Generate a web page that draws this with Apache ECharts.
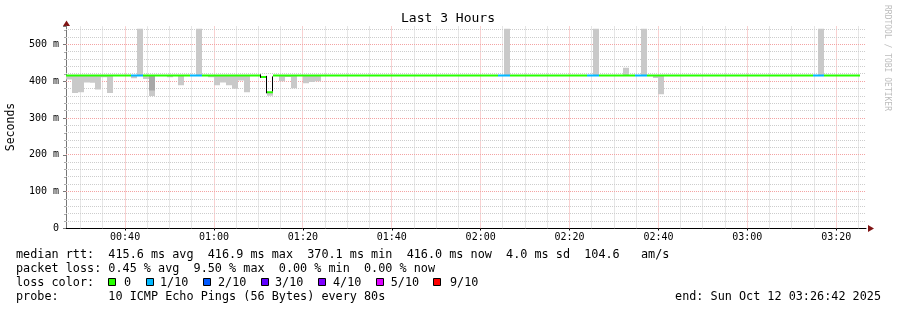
<!DOCTYPE html>
<html><head><meta charset="utf-8">
<script src="https://cdn.jsdelivr.net/npm/echarts@6/dist/echarts.min.js"></script>
<style>html,body{margin:0;padding:0;background:#fff}#c{width:897px;height:310px}</style>
</head><body><div id="c"></div>
<script>
const _ = null;
// time values are seconds since 00:00
const firstRowStart = 1600;   // 00:26:40
const stepSeconds = 80;
const viewStart = 1602;       // 00:26:42
const viewEnd = 12402;        // 03:26:42
const xTickValues = [2400, 3600, 4800, 6000, 7200, 8400, 9600, 10800, 12000];
const xTickLabels = ['00:40', '01:00', '01:20', '01:40', '02:00', '02:20', '02:40', '03:00', '03:20'];
const yTickValues = [0, 100, 200, 300, 400, 500];
const yTickLabels = ['0', '100 m', '200 m', '300 m', '400 m', '500 m'];

// median rtt per 80 s row (ms)
const median = [
 416,416,416,416,416,416,416,416,416,416,
 416,416,416,416,416,416,416,416,416,416,
 416,416,416,416,416,416,416,416,416,416,
 416,416,416,412,370,416,416,416,416,416,
 416,416,416,416,416,416,416,416,416,416,
 416,416,416,416,416,416,416,416,416,416,
 416,416,416,416,416,416,416,416,416,416,
 416,416,416,416,416,416,416,416,416,416,
 416,416,416,416,416,416,416,416,416,416,
 416,416,416,416,416,416,416,416,416,416,
 416,416,416,416,416,416,416,416,416,416,
 416,416,416,416,416,416,416,416,416,416,
 416,416,416,416,416,416,416,416,416,416,
 416,416,416,416
];
// lost pings out of 10 per row
const lossTenths = [
 0,0,0,0,0,0,0,0,0,0,
 0,1,1,0,0,0,0,0,0,0,
 0,1,1,0,0,0,0,0,0,0,
 0,0,0,0,0,0,0,0,0,0,
 0,0,0,0,0,0,0,0,0,0,
 0,0,0,0,0,0,0,0,0,0,
 0,0,0,0,0,0,0,0,0,0,
 0,0,0,1,1,0,0,0,0,0,
 0,0,0,0,0,0,0,0,1,1,
 0,0,0,0,0,0,1,1,0,0,
 0,0,0,0,0,0,0,0,0,0,
 0,0,0,0,0,0,0,0,0,0,
 0,0,0,0,0,0,1,1,0,0,
 0,0,0,0
];
// smoke extent below the median (ms)
const smokeLow = [
 405,368,370,397,396,378,411,368,_,_,
 _,408,_,406,360,_,_,411,_,389,
 _,_,_,_,411,389,397,389,380,402,
 370,_,_,_,361,_,400,412,381,_,
 395,398,400,_,_,_,_,_,_,_,
 _,_,_,_,_,_,_,_,_,_,
 _,_,_,_,_,_,_,_,_,_,
 _,_,_,_,_,_,_,_,_,_,
 _,_,_,_,_,_,_,_,_,_,
 _,_,_,_,_,_,_,_,_,409,
 365,_,_,_,_,_,_,_,_,_,
 _,_,_,_,_,_,_,_,_,_,
 _,_,_,_,_,_,_,_,_,_,
 _,_,_,_
];
// smoke extent above the median (ms)
const smokeHigh = [
 _,_,_,_,_,_,_,_,_,_,
 _,_,543,_,_,_,_,_,_,_,
 _,_,543,_,_,_,_,_,_,_,
 _,_,_,_,_,_,_,_,_,_,
 _,_,_,_,_,_,_,_,_,_,
 _,_,_,_,_,_,_,_,_,_,
 _,_,_,_,_,_,_,_,_,_,
 _,_,_,_,543,_,_,_,_,_,
 _,_,_,_,_,_,_,_,_,543,
 _,_,_,_,437,_,_,543,_,_,
 _,_,_,_,_,_,_,_,_,_,
 _,_,_,_,_,_,_,_,_,_,
 _,_,_,_,_,_,_,543,_,_,
 _,_,_,_
];
// denser smoke band below the median (ms)
const smokeDark = [
 _,_,_,_,_,_,_,_,_,_,
 _,_,_,_,375,_,_,_,_,_,
 _,_,_,_,_,_,_,_,_,_,
 _,_,_,_,_,_,_,_,_,_,
 _,_,_,_,_,_,_,_,_,_,
 _,_,_,_,_,_,_,_,_,_,
 _,_,_,_,_,_,_,_,_,_,
 _,_,_,_,_,_,_,_,_,_,
 _,_,_,_,_,_,_,_,_,_,
 _,_,_,_,_,_,_,_,_,_,
 _,_,_,_,_,_,_,_,_,_,
 _,_,_,_,_,_,_,_,_,_,
 _,_,_,_,_,_,_,_,_,_,
 _,_,_,_
];
const lossColors = ['#26ff00', '#00b8ff', '#0059ff', '#5e00ff', '#7e00ff', '#dd00ff', '#ff0000'];
const lossLabels = ['0', '1/10', '2/10', '3/10', '4/10', '5/10', '9/10'];
const statsLines = [
  'median rtt:  415.6 ms avg  416.9 ms max  370.1 ms min  416.0 ms now  4.0 ms sd  104.6   am/s',
  'packet loss: 0.45 % avg  9.50 % max  0.00 % min  0.00 % now',
  'loss color:',
  'probe:       10 ICMP Echo Pings (56 Bytes) every 80s'
];
const endText = 'end: Sun Oct 12 03:26:42 2025';
const titleText = 'Last 3 Hours';
const yName = 'Seconds';
const watermark = 'RRDTOOL / TOBI OETIKER';

const YMAX = 550;
const MONO = '"DejaVu Sans Mono", monospace';

// grid data
const xGrid = [];
for (let t = 1800; t <= 12300; t += 300) xGrid.push([t, 0, t % 1200 === 0 ? 1 : 0]);
const yGrid = [];
for (let v = 20; v <= 540; v += 20) yGrid.push([viewStart, v, v % 100 === 0 ? 1 : 0]);

const medianData = median.map((m, i) => [
  firstRowStart + stepSeconds * i, firstRowStart + stepSeconds * (i + 1),
  m, lossTenths[i], i > 0 ? median[i - 1] : m]);
const smokeData = [];
median.forEach((m, i) => {
  if (smokeLow[i] != null || smokeHigh[i] != null || smokeDark[i] != null) {
    smokeData.push([firstRowStart + stepSeconds * i, firstRowStart + stepSeconds * (i + 1), m,
      smokeLow[i] != null ? smokeLow[i] : m,
      smokeHigh[i] != null ? smokeHigh[i] : m,
      smokeDark[i] != null ? smokeDark[i] : m]);
  }
});

const crisp = v => Math.floor(v + 0.01) + 0.5;
const MINOR = '#cdcdcd', MAJOR = '#f3a3a3';

function renderXGrid(params, api) {
  const t = api.value(0);
  const a = api.coord([t, 0]), b = api.coord([t, YMAX]);
  const x = crisp(a[0]);
  return { type: 'line', shape: { x1: x, y1: a[1], x2: x, y2: b[1] },
    style: { stroke: api.value(2) ? MAJOR : MINOR, lineWidth: 1, lineDash: [1, 1] } };
}
function renderYGrid(params, api) {
  const v = api.value(1);
  const a = api.coord([viewStart, v]), b = api.coord([viewEnd, v]);
  const y = crisp(a[1]);
  return { type: 'line', shape: { x1: a[0], y1: y, x2: b[0], y2: y },
    style: { stroke: api.value(2) ? MAJOR : MINOR, lineWidth: 1, lineDash: [1, 1] } };
}
function renderSmoke(params, api) {
  const t0 = api.value(0), t1 = api.value(1), m = api.value(2);
  const x0 = Math.round(api.coord([t0, m])[0]);
  const x1 = Math.round(api.coord([t1, m])[0]);
  const ym = api.coord([t0, m])[1];
  const children = [];
  function band(v, color) {
    if (v === m) return;
    const y = api.coord([t0, v])[1];
    children.push({ type: 'rect', shape: { x: x0, y: Math.min(y, ym), width: x1 - x0, height: Math.abs(y - ym) },
      style: { fill: color } });
  }
  band(api.value(3), '#c9c9c9');
  band(api.value(4), '#c9c9c9');
  band(api.value(5), '#a8a8a8');
  return { type: 'group', children };
}
function renderMedian(params, api) {
  const t0 = api.value(0), t1 = api.value(1), m = api.value(2), loss = api.value(3), prev = api.value(4);
  const a = api.coord([t0, m]), b = api.coord([t1, m]);
  const children = [];
  if (prev !== m) {
    const p = api.coord([t0, prev]);
    const x = Math.round(a[0]) - 0.5;
    children.push({ type: 'line', shape: { x1: x, y1: p[1] - 1, x2: x, y2: a[1] + 1 },
      style: { stroke: '#000', lineWidth: 1 } });
  }
  children.push({ type: 'line', shape: { x1: Math.round(a[0]), y1: a[1], x2: Math.round(b[0]), y2: b[1] },
    style: { stroke: lossColors[loss], lineWidth: 2 } });
  return { type: 'group', children };
}

const graphics = [];
graphics.push({ type: 'text', x: 448, y: 19, style: { text: titleText, font: '13px ' + MONO, fill: '#000', align: 'center', verticalAlign: 'middle' } });
graphics.push({ type: 'text', x: 11, y: 127, rotation: Math.PI / 2, style: { text: yName, font: '11.5px ' + MONO, fill: '#000', align: 'center', verticalAlign: 'middle' } });
graphics.push({ type: 'text', x: 887, y: 5, rotation: -Math.PI / 2, style: { text: watermark, font: '8px ' + MONO, fill: '#bdbdbd', align: 'left', verticalAlign: 'middle' } });
const lineY = [254.5, 268.5, 282.5, 296.5];
statsLines.forEach((s, i) => {
  graphics.push({ type: 'text', x: 16, y: lineY[i], style: { text: s, font: '11.8px ' + MONO, fill: '#000', align: 'left', verticalAlign: 'middle' } });
});
graphics.push({ type: 'text', x: 881, y: lineY[3], style: { text: endText, font: '11.8px ' + MONO, fill: '#000', align: 'right', verticalAlign: 'middle' } });
const sqX = [108, 145.7, 203, 260.7, 318, 375.7, 433.3];
const lbX = [124, 160, 218, 275, 333, 390.7, 450];
lossLabels.forEach((l, i) => {
  graphics.push({ type: 'rect', shape: { x: Math.round(sqX[i]) + 0.5, y: 278.5, width: 7, height: 7 }, style: { fill: lossColors[i], stroke: '#000', lineWidth: 1 } });
  graphics.push({ type: 'text', x: lbX[i], y: lineY[2], style: { text: l, font: '11.8px ' + MONO, fill: '#000', align: 'left', verticalAlign: 'middle' } });
});
// axis arrows
graphics.push({ type: 'polygon', shape: { points: [[66.5, 20.5], [63, 26], [70, 26]] }, style: { fill: '#801515' } });
graphics.push({ type: 'polygon', shape: { points: [[874, 228.5], [868, 225], [868, 232]] }, style: { fill: '#801515' } });

const chart = echarts.init(document.getElementById('c'), null, { renderer: 'canvas' });
chart.setOption({
  animation: false,
  backgroundColor: '#ffffff',
  grid: { left: 66, right: 31, top: 26.1, bottom: 81.5, containLabel: false },
  xAxis: {
    type: 'value', min: viewStart, max: viewEnd,
    splitLine: { show: false },
    axisLine: { show: true, lineStyle: { color: '#000', width: 1 } },
    axisTick: { show: true, customValues: xTickValues, length: 2, lineStyle: { color: '#000' } },
    axisLabel: {
      customValues: xTickValues, margin: 4,
      formatter: v => { const i = xTickValues.indexOf(v); return i >= 0 ? xTickLabels[i] : ''; },
      fontFamily: MONO, fontSize: 10, color: '#000'
    }
  },
  yAxis: {
    type: 'value', min: 0, max: YMAX, interval: 100,
    splitLine: { show: false },
    axisLine: { show: true, lineStyle: { color: '#777', width: 1 } },
    axisTick: { show: true, length: 3, lineStyle: { color: '#777' } },
    minorTick: { show: true, splitNumber: 5, length: 2, lineStyle: { color: '#aaa' } },
    axisLabel: {
      margin: 7,
      formatter: v => { const i = yTickValues.indexOf(v); return i >= 0 ? yTickLabels[i] : ''; },
      fontFamily: MONO, fontSize: 10, color: '#000'
    }
  },
  series: [
    { type: 'custom', name: 'xgrid', data: xGrid, encode: { x: 0, y: 1 }, renderItem: renderXGrid, z: 1, silent: true, clip: true },
    { type: 'custom', name: 'ygrid', data: yGrid, encode: { x: 0, y: 1 }, renderItem: renderYGrid, z: 1, silent: true, clip: true },
    { type: 'custom', name: 'smoke', data: smokeData, encode: { x: [0, 1], y: [2, 3, 4] }, renderItem: renderSmoke, z: 2, clip: true },
    { type: 'custom', name: 'median', data: medianData, encode: { x: [0, 1], y: 2 }, renderItem: renderMedian, z: 3, clip: true }
  ],
  graphic: graphics
});
</script>
</body></html>
